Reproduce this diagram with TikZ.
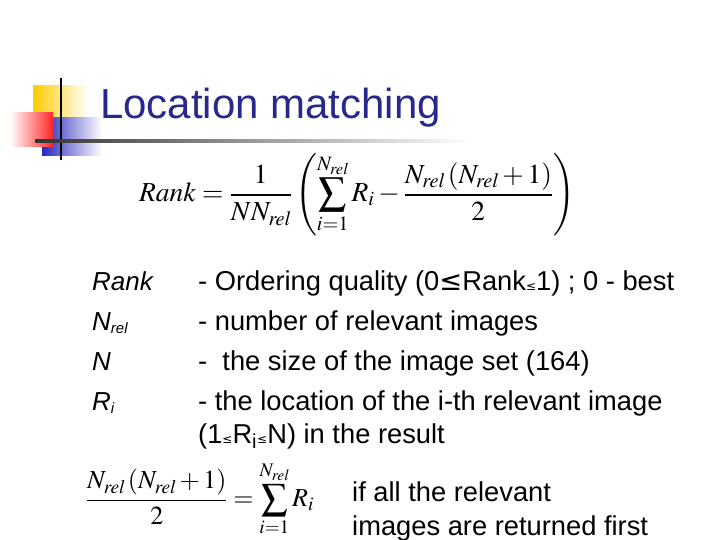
\documentclass[tikz,border=0pt]{standalone}
\usepackage{mathptmx}
\usepackage{fontspec}
\setmainfont{Liberation Sans}
\newfontfamily\djv{DejaVu Sans}
\definecolor{navy}{RGB}{40,40,140}
\definecolor{lyel}{RGB}{255,204,0}
\definecolor{lblu}{RGB}{40,40,190}
\begin{document}
\begin{tikzpicture}[x=1pt,y=-1pt,
 lab/.style={anchor=base west,font=\fontsize{26}{30}\selectfont\itshape,inner sep=0},
 txt/.style={anchor=base west,font=\fontsize{27.3}{30}\selectfont,inner sep=0}]
\useasboundingbox (0,0) rectangle (720,540);
\fill[left color=lyel,right color=white] (33,86) rectangle (88,118);
\fill[left color=lblu,right color=white] (42,118) rectangle (102,156);
\fill[left color=white,right color=red!85] (10,113) rectangle (53,147);
\draw[line width=2.5pt] (61,78) -- (61,160);
\shade[left color=black!80,right color=white] (35,139.5) rectangle (470,142.5);
\node[anchor=base west,text=navy,font=\fontsize{42}{44}\selectfont,inner sep=0] (title) at (100,119) {Location matching};
\node[anchor=center,inner sep=0] (f1) at (357,195) {\fontsize{27.5}{32}\selectfont$\displaystyle \mathit{Rank}=\frac{1}{NN_{\mathit{rel}}}\left(\sum_{i=1}^{N_{\mathit{rel}}}R_i-\frac{N_{\mathit{rel}}\left(N_{\mathit{rel}}+1\right)}{2}\right)$};
\node[lab] (l1) at (92,290) {Rank};
\node[lab] (l2) at (92,330) {N\textsubscript{\fontsize{15}{15}\selectfont rel}};
\node[lab] (l3) at (92,370) {N};
\node[lab] (l4) at (92,410) {R\textsubscript{\fontsize{15}{15}\selectfont i}};
\node[txt] (t1) at (198,290) {- Ordering quality (0{\djv≤}Rank{\djv\fontsize{12}{12}\selectfont≤}1) ; 0 - best};
\node[txt] (t2) at (198,330) {- number of relevant images};
\node[txt] (t3) at (198,370) {-\ \ the size of the image set (164)};
\node[txt] (t4) at (198,410) {- the location of the i-th relevant image};
\node[txt] (t5) at (198,443) {(1{\djv\fontsize{12}{12}\selectfont≤}R\textsubscript{i}{\djv\fontsize{12}{12}\selectfont≤}N) in the result};
\node[anchor=center,inner sep=0] (f2) at (200,499) {\fontsize{26}{30}\selectfont$\displaystyle \frac{N_{\mathit{rel}}\left(N_{\mathit{rel}}+1\right)}{2}=\sum_{i=1}^{N_{\mathit{rel}}}R_i$};
\node[txt] (t6) at (352,501) {if all the relevant};
\node[txt] (t7) at (352,535) {images are returned first};
\end{tikzpicture}
\end{document}
